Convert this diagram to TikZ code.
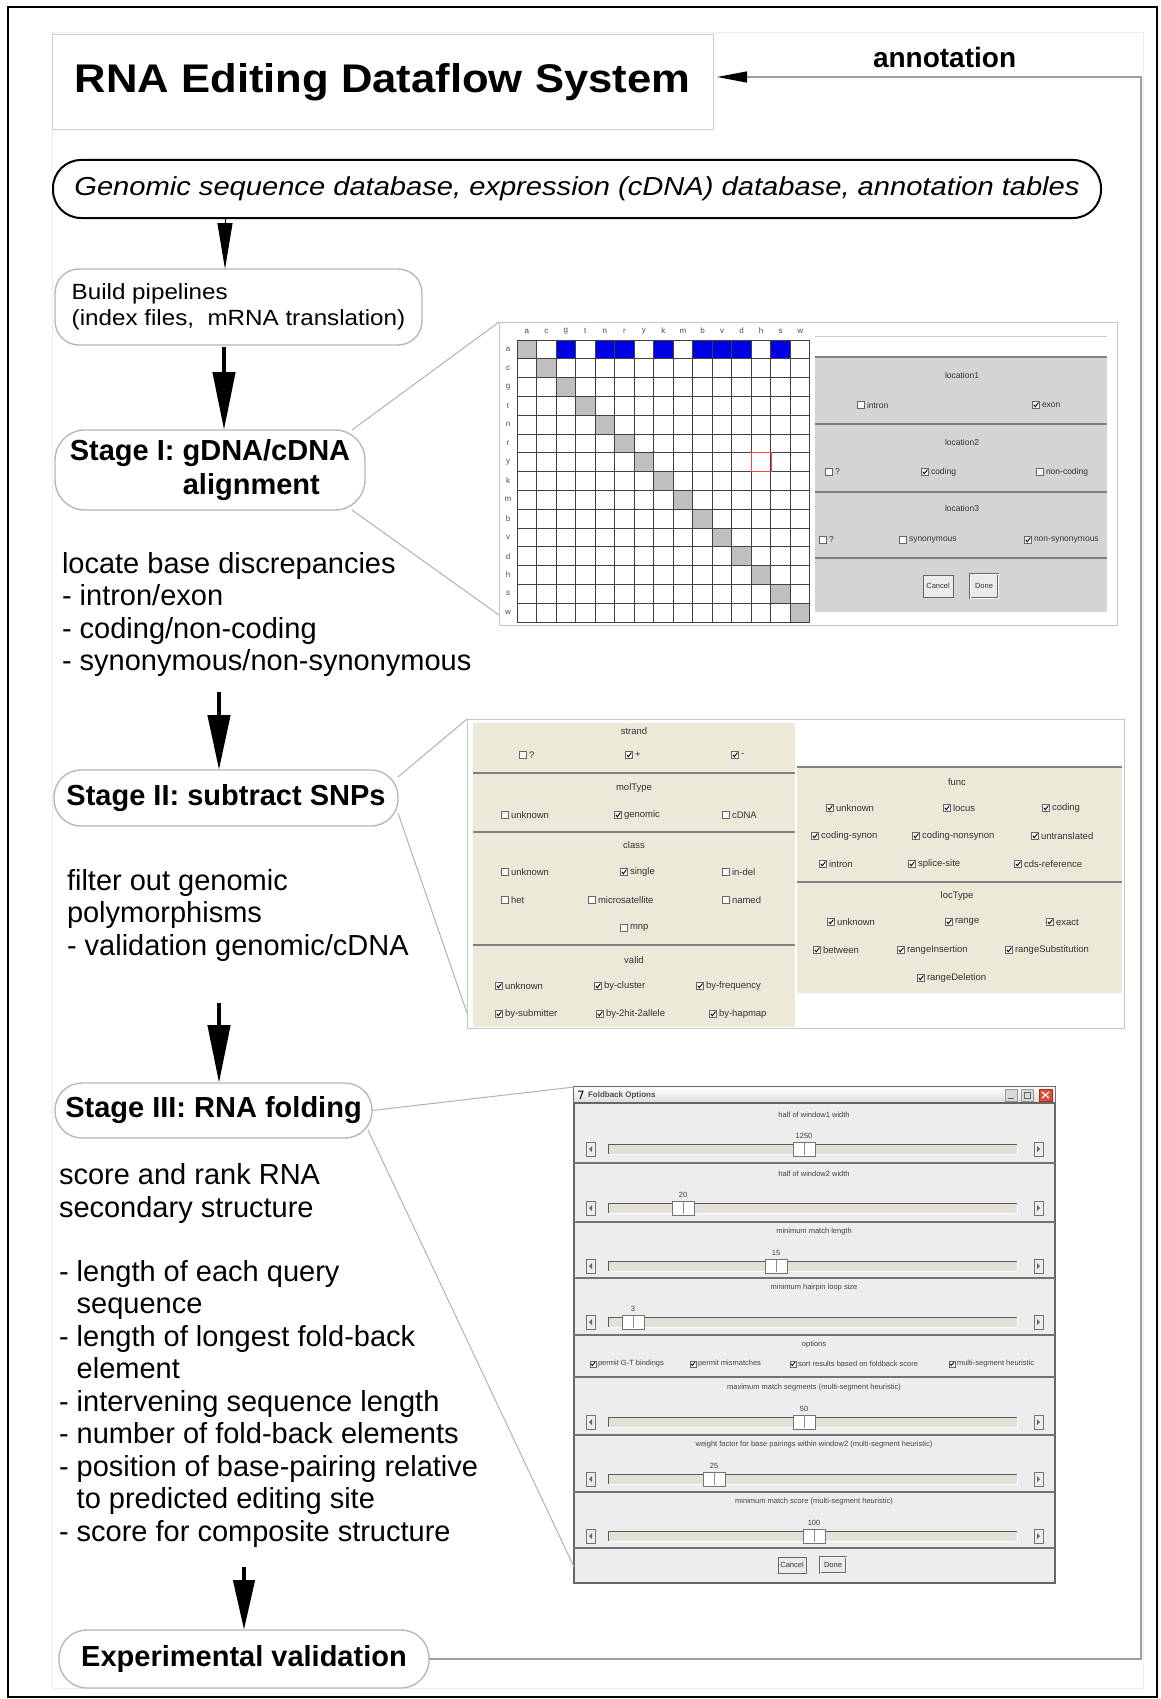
\documentclass[tikz,border=0pt]{standalone}
\usepackage{fontspec}
\setmainfont{Liberation Sans}
\newfontfamily\titlesans[FakeStretch=1.09]{Liberation Sans}
\newfontfamily\widesans[FakeStretch=1.12]{Liberation Sans}
\newfontfamily\buildsans[FakeStretch=1.1]{Liberation Sans}
\usetikzlibrary{arrows.meta}

\definecolor{xpbeige}{HTML}{ECE9D8}
\definecolor{panelgray}{HTML}{D4D4D4}
\definecolor{winbody}{HTML}{EDEDED}
\definecolor{trackfill}{HTML}{E3E1D7}
\definecolor{cellblue}{HTML}{0000E6}
\definecolor{closered}{HTML}{E04A3A}

\newcounter{guin}
% check box with its caption (dialog screenshots)
\newcommand\shotopt[4]{%
  \stepcounter{guin}%
  \draw[black!60, fill=white, line width=0.5pt] (#1-3.5,#2-3.5) rectangle (#1+3.5,#2+3.5);
  \ifnum#3=1\relax\draw[black, line width=0.9pt] (#1-2.2,#2-0.3) -- (#1-0.7,#2+1.8) -- (#1+2.4,#2-2.4);\fi
  \node[shottext, anchor=west] (g\theguin) at (#1+6,#2) {#4};}
% ticked check box of the foldback dialog
\newcommand\winopt[3]{%
  \stepcounter{guin}%
  \draw[black!60, fill=white, line width=0.5pt] (#1-3,#2-3) rectangle (#1+3,#2+3);
  \draw[black, line width=0.8pt] (#1-1.8,#2-0.2) -- (#1-0.6,#2+1.5) -- (#1+2,#2-2);
  \node[wintext, anchor=west] (g\theguin) at (#1+5,#2) {#3};}
% one slider row: top, caption, value, thumb position
\newcommand\fbslider[4]{%
  \stepcounter{guin}%
  \node[wintext] (g\theguin) at (814,#1+12) {#2};
  \stepcounter{guin}%
  \node[wintext] (g\theguin) at (#4,#1+33) {#3};
  \fill[trackfill] (608,#1+41) rectangle (1017,#1+51);
  \draw[black!65, line width=0.8pt] (608,#1+51) -- (608,#1+41) -- (1017,#1+41);
  \draw[white, line width=0.8pt] (608,#1+51) -- (1017,#1+51) -- (1017,#1+41);
  \filldraw[fill=white, draw=black!55, line width=0.6pt] (#4-11,#1+39) rectangle (#4+11,#1+53);
  \draw[black!45, line width=0.5pt] (#4,#1+40) -- (#4,#1+52);
  \draw[black!55, line width=0.6pt] (586,#1+39) rectangle (595,#1+53);
  \fill[black!60] (589,#1+46) -- (592,#1+43) -- (592,#1+49) -- cycle;
  \draw[black!55, line width=0.6pt] (1034,#1+39) rectangle (1043,#1+53);
  \fill[black!60] (1040,#1+46) -- (1037,#1+43) -- (1037,#1+49) -- cycle;}

\tikzset{
  every node/.style={inner sep=0pt, outer sep=0pt},
  titlebox/.style={draw=black!20, line width=1pt, fill=white},
  dbbox/.style={draw=black, line width=2pt, rounded corners=28pt, fill=white},
  stagebox/.style={draw=black!28, line width=1.4pt, fill=white},
  headfont/.style={font=\bfseries\fontsize{29}{34}\selectfont},
  bodyline/.style={anchor=base west, font=\fontsize{29}{33}\selectfont},
  bigarrow/.style={line width=4.5pt, -{Triangle[length=58pt,width=22pt]}},
  wedgearrow/.style={line width=1pt, -{Triangle[length=46pt,width=15pt]}},
  annotline/.style={draw=black!38, line width=1.3pt},
  callout/.style={draw=black!30, line width=1pt},
  shotframe/.style={draw=black!22, line width=1pt, fill=white},
  shottext/.style={font=\fontsize{8.5}{9}\selectfont, text=black!80},
  gridtext/.style={font=\fontsize{8}{9}\selectfont, text=black!70},
  wintext/.style={font=\fontsize{7.5}{8}\selectfont, text=black!75},
  gridline/.style={draw=black!75, line width=1pt},
  sepline/.style={draw=black!50, line width=1.5pt},
  guibtn/.style={draw=black!60, line width=0.7pt, fill=black!8, font=\fontsize{7.5}{8}\selectfont, text=black!80}
}

\begin{document}
\begin{tikzpicture}[x=1pt,y=-1pt]
\useasboundingbox (0,0) rectangle (1160,1699);
\fill[white] (0,0) rectangle (1160,1699);
\draw[black!7, line width=1pt] (52,33) rectangle (1143,1688);
\draw[black, line width=2.5pt] (8,7) rectangle (1157,1697);

% ---------- left column: flow ----------
\node[titlebox, minimum width=661pt, minimum height=95pt] (title) at (382.5,82.5)
  {\titlesans\bfseries\fontsize{40}{48}\selectfont RNA Editing Dataflow System};
\node[anchor=base west, font=\bfseries\fontsize{28}{32}\selectfont] (annot) at (873,68) {annotation};

\node[dbbox, minimum width=1048pt, minimum height=58pt] (db) at (577,189)
  {\widesans\itshape\fontsize{26}{30}\selectfont Genomic sequence database, expression (cDNA) database, annotation tables};

\node[stagebox, rounded corners=24pt, minimum width=367pt, minimum height=76pt, align=left,
      font={\buildsans\fontsize{22}{26}\selectfont}] (build) at (238.5,307)
  {Build pipelines\\(index files,\ \ mRNA translation)};

\node[stagebox, rounded corners=30pt, minimum width=310pt, minimum height=80pt, align=left, headfont] (s1) at (210,470)
  {Stage I: gDNA/cDNA\\\hspace*{113pt}alignment};

\node[bodyline] (s1a) at (62,573) {locate base discrepancies};
\node[bodyline] (s1b) at (62,605.5) {- intron/exon};
\node[bodyline] (s1c) at (62,638) {- coding/non-coding};
\node[bodyline] (s1d) at (62,670) {- synonymous/non-synonymous};

\node[stagebox, rounded corners=27pt, minimum width=344pt, minimum height=56pt, headfont] (s2) at (226,798)
  {Stage II: subtract SNPs};

\node[bodyline] (s2a) at (67,890) {filter out genomic};
\node[bodyline] (s2b) at (67,922.5) {polymorphisms};
\node[bodyline] (s2c) at (67,955) {- validation genomic/cDNA};

\node[stagebox, rounded corners=27pt, minimum width=317pt, minimum height=55pt, headfont] (s3) at (213.5,1110.5)
  {Stage III: RNA folding};

\node[bodyline] (s3a) at (59,1184) {score and rank RNA};
\node[bodyline] (s3b) at (59,1217) {secondary structure};
\node[bodyline] (s3c) at (59,1281) {- length of each query};
\node[bodyline] (s3d) at (76.7,1313.5) {sequence};
\node[bodyline] (s3e) at (59,1346) {- length of longest fold-back};
\node[bodyline] (s3f) at (76.7,1378.5) {element};
\node[bodyline] (s3g) at (59,1411) {- intervening sequence length};
\node[bodyline] (s3h) at (59,1443.5) {- number of fold-back elements};
\node[bodyline] (s3i) at (59,1476) {- position of base-pairing relative};
\node[bodyline] (s3j) at (76.7,1508.5) {to predicted editing site};
\node[bodyline] (s3k) at (59,1541) {- score for composite structure};

\node[stagebox, rounded corners=28pt, minimum width=370pt, minimum height=58pt, headfont] (ev) at (244,1659)
  {Experimental validation};

% flow arrows
\coordinate (aA) at (225,222);
\coordinate (aB) at (224,347);
\coordinate (aC) at (219,692);
\coordinate (aD) at (219,1003);
\coordinate (aE) at (244,1567);
\draw[wedgearrow] (db.south -| aA) -- (build.north -| aA);
\draw[bigarrow] (aB) -- (s1.north -| aB);
\draw[bigarrow, -{Triangle[length=55pt,width=22pt]}] (aC) -- (s2.north -| aC);
\draw[bigarrow] (aD) -- (s3.north -| aD);
\draw[bigarrow, -{Triangle[length=50pt,width=21pt]}] (aE) -- (ev.north);

% annotation feedback
\coordinate (fbtop) at (1141,77);
\coordinate (fbbottom) at (1141,1659);
\draw[annotline, -{Triangle[length=30pt,width=11pt,color=black]}]
  (ev.east) -- (fbbottom) -- (fbtop) -- ([xshift=4pt]title.east |- fbtop);

% ---------- screenshot 1: alignment matrix and location filter ----------
\node[shotframe, minimum width=618pt, minimum height=303pt] (shot1) at (808,473.5) {};
\foreach \c [count=\i] in {a,c,g,t,n,r,y,k,m,b,v,d,h,s,w} {
  \node[gridtext] (colh\i) at (517+19.53*\i-9.77,331) {\c};
  \node[gridtext] (rowh\i) at (508,340+18.8*\i-9.4) {\c};
  \fill[black!25] (517+19.53*\i-19.53,340+18.8*\i-18.8) rectangle ++(19.53,18.8);
}
\foreach \i in {3,5,6,8,10,11,12,14}
  \fill[cellblue] (517+19.53*\i-19.53,340) rectangle ++(19.53,18.8);
\foreach \i in {0,...,15} {
  \draw[gridline] (517+19.53*\i,340) -- (517+19.53*\i,622);
  \draw[gridline] (517,340+18.8*\i) -- (810,340+18.8*\i);
}
\draw[red!75, line width=0.8pt] (751.4,452.8) rectangle (770.9,471.6);

\draw[black!20, line width=0.8pt] (815,336) -- (1107,336);
\fill[panelgray] (815,357) rectangle (1107,612);
\foreach \yy in {357,424,492,558} \draw[sepline] (815,\yy) -- (1107,\yy);
\node[shottext] (loc1) at (962,375) {location1};
\shotopt{861}{405}{0}{intron}
\shotopt{1036}{405}{1}{exon}
\node[shottext] (loc2) at (962,442) {location2};
\shotopt{829}{472}{0}{?}
\shotopt{925}{472}{1}{coding}
\shotopt{1040}{472}{0}{non-coding}
\node[shottext] (loc3) at (962,508) {location3};
\shotopt{823}{540}{0}{?}
\shotopt{903}{540}{0}{synonymous}
\shotopt{1028}{540}{1}{non-synonymous}
\node[guibtn, minimum width=30pt, minimum height=22pt] (cancel1) at (938,586) {Cancel};
\node[guibtn, double, minimum width=28pt, minimum height=24pt] (done1) at (984,586) {Done};

\draw[callout] ([xshift=-13pt]s1.north east) -- (shot1.north west);
\draw[callout] ([xshift=-13pt]s1.south east) -- ([yshift=10pt]shot1.south west);

% ---------- screenshot 2: SNP filter ----------
\node[shotframe, minimum width=657pt, minimum height=309pt] (shot2) at (795.5,873.5) {};
\fill[xpbeige] (473,723) rectangle (795,1027);
\fill[xpbeige] (797,767) rectangle (1122,993);
\foreach \yy in {773,832,945} \draw[sepline] (473,\yy) -- (795,\yy);
\foreach \yy in {767,882} \draw[sepline] (797,\yy) -- (1122,\yy);

\begin{scope}[shottext/.style={font=\fontsize{9.5}{10}\selectfont, text=black!80}]
\node[shottext] (strand) at (634,731) {strand};
\shotopt{523}{755}{0}{?}
\shotopt{629}{755}{1}{+}
\shotopt{735}{755}{1}{-}
\node[shottext] (moltype) at (634,788) {molType};
\shotopt{505}{815}{0}{unknown}
\shotopt{618}{815}{1}{genomic}
\shotopt{726}{815}{0}{cDNA}
\node[shottext] (class) at (634,845) {class};
\shotopt{505}{872}{0}{unknown}
\shotopt{624}{872}{1}{single}
\shotopt{726}{872}{0}{in-del}
\shotopt{505}{900}{0}{het}
\shotopt{592}{900}{0}{microsatellite}
\shotopt{726}{900}{0}{named}
\shotopt{624}{928}{0}{mnp}
\node[shottext] (valid) at (634,960) {valid};
\shotopt{499}{986}{1}{unknown}
\shotopt{598}{986}{1}{by-cluster}
\shotopt{700}{986}{1}{by-frequency}
\shotopt{499}{1014}{1}{by-submitter}
\shotopt{600}{1014}{1}{by-2hit-2allele}
\shotopt{713}{1014}{1}{by-hapmap}

\node[shottext] (func) at (957,782) {func};
\shotopt{830}{808}{1}{unknown}
\shotopt{947}{808}{1}{locus}
\shotopt{1046}{808}{1}{coding}
\shotopt{815}{836}{1}{coding-synon}
\shotopt{916}{836}{1}{coding-nonsynon}
\shotopt{1035}{836}{1}{untranslated}
\shotopt{823}{864}{1}{intron}
\shotopt{912}{864}{1}{splice-site}
\shotopt{1018}{864}{1}{cds-reference}
\node[shottext] (loctype) at (957,896) {locType};
\shotopt{831}{922}{1}{unknown}
\shotopt{949}{922}{1}{range}
\shotopt{1050}{922}{1}{exact}
\shotopt{817}{950}{1}{between}
\shotopt{901}{950}{1}{rangeInsertion}
\shotopt{1009}{950}{1}{rangeSubstitution}
\shotopt{921}{978}{1}{rangeDeletion}
\end{scope}

\draw[callout] ([yshift=-7pt]s2.north east) -- (shot2.north west);
\draw[callout] ([yshift=13pt]s2.south east) -- ([yshift=15pt]shot2.south west);

% ---------- screenshot 3: foldback options dialog ----------
\node[draw=black!60, line width=1.2pt, fill=winbody, minimum width=481pt, minimum height=496pt] (shot3) at (814.5,1335) {};
\shade[top color=white, bottom color=black!14] (574,1087) rectangle (1055,1103);
\draw[black!60, line width=1.2pt] (574,1103) -- (1055,1103);
\draw[black, line width=1pt] (578,1091) -- (583,1091) -- (580,1099);
\node[anchor=west, font=\bfseries\fontsize{8}{9}\selectfont, text=black!70] (fbtitle) at (588,1095) {Foldback Options};
\filldraw[fill=black!15, draw=black!40, line width=0.5pt] (1005,1089) rectangle (1017,1101);
\draw[black!60, line width=1pt] (1008,1098) -- (1014,1098);
\filldraw[fill=black!15, draw=black!40, line width=0.5pt] (1021,1089) rectangle (1033,1101);
\draw[black!60, line width=0.7pt] (1024,1092) rectangle (1030,1098);
\filldraw[fill=closered, draw=closered!70!black, line width=0.5pt] (1039,1089) rectangle (1052,1101);
\draw[white, line width=1.2pt] (1042,1092) -- (1049,1098) (1042,1098) -- (1049,1092);

\foreach \yy in {1163,1222,1278,1335,1377,1435,1492,1548} \draw[black!55, line width=1.2pt] (574,\yy) -- (1055,\yy);

\fbslider{1103}{half of window1 width}{1250}{804}
\fbslider{1162}{half of window2 width}{20}{683}
\fbslider{1220}{minimum match length}{15}{776}
\fbslider{1276}{minimum hairpin loop size}{3}{633}

\node[wintext] (optlabel) at (814,1345) {options};
\winopt{593}{1364}{permit G-T bindings}
\winopt{693}{1364}{permit mismatches}
\winopt{793}{1364}{sort results based on foldback score}
\winopt{952}{1364}{multi-segment heuristic}

\fbslider{1376}{maximum match segments (multi-segment heuristic)}{50}{804}
\fbslider{1433}{weight factor for base pairings within window2 (multi-segment heuristic)}{25}{714}
\fbslider{1490}{minimum match score (multi-segment heuristic)}{100}{814}

\node[guibtn, minimum width=28pt, minimum height=16pt] (cancel3) at (792,1565) {Cancel};
\node[guibtn, double, minimum width=26pt, minimum height=16pt] (done3) at (833,1565) {Done};

\draw[callout] (s3.east) -- (shot3.north west);
\draw[callout] ([shift={(-4pt,8pt)}]s3.south east) -- ([yshift=16pt]shot3.south west);
\end{tikzpicture}
\end{document}
